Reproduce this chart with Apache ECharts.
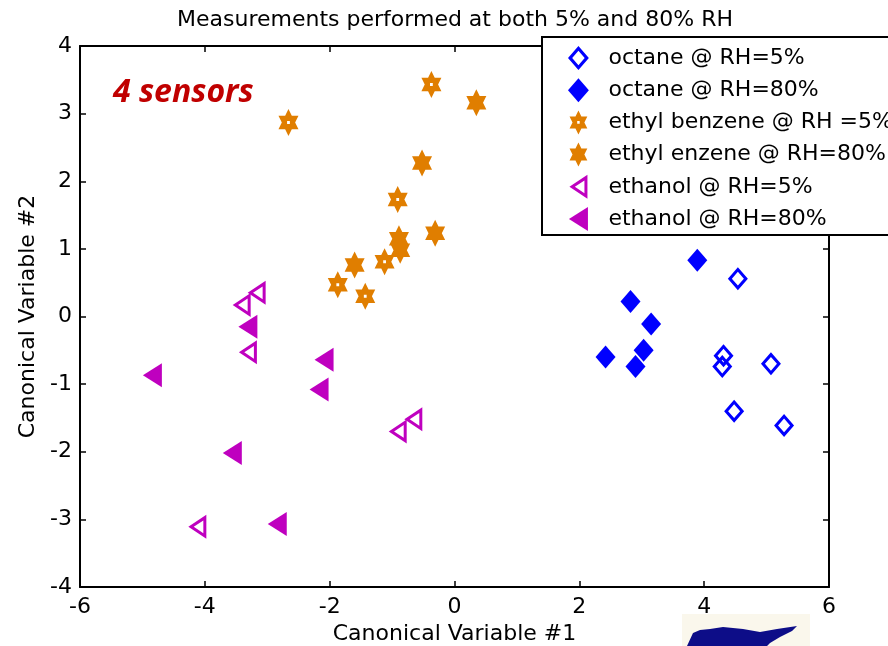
<!DOCTYPE html>
<html>
<head>
<meta charset="utf-8">
<script src="https://cdn.jsdelivr.net/npm/echarts@6/dist/echarts.min.js"></script>
<style>
  html, body { margin: 0; padding: 0; background: #fff; }
  #chart { width: 888px; height: 646px; }
</style>
</head>
<body>
<div id="chart"></div>
<script>
// Canonical variable scores, [CV1, CV2] per measurement
const octane5 = [[4.54, 0.56], [4.31, -0.58], [4.29, -0.74], [5.07, -0.70], [4.48, -1.40], [5.28, -1.61]];
const octane80 = [[3.89, 0.83], [2.82, 0.22], [3.15, -0.11], [3.03, -0.50], [2.42, -0.60], [2.90, -0.74]];
const ethylBenzene5 = [[-2.66, 2.87], [-0.37, 3.43], [-0.91, 1.73], [-1.12, 0.81], [-1.87, 0.47], [-1.43, 0.30]];
const ethylBenzene80 = [[0.35, 3.16], [-0.52, 2.27], [-0.31, 1.23], [-0.89, 1.15], [-0.87, 0.98], [-1.60, 0.76]];
const ethanol5 = [[-3.17, 0.35], [-3.41, 0.17], [-3.31, -0.53], [-0.66, -1.52], [-0.91, -1.70], [-4.12, -3.11]];
const ethanol80 = [[-3.31, -0.15], [-2.09, -0.64], [-4.84, -0.87], [-2.17, -1.08], [-3.56, -2.02], [-2.84, -3.07]];

const seriesNames = [
  'octane @ RH=5%', 'octane @ RH=80%',
  'ethyl benzene @ RH =5%', 'ethyl enzene @ RH=80%',
  'ethanol @ RH=5%', 'ethanol @ RH=80%'
];

const xRange = [-6, 6];
const yRange = [-4, 4];

// Marker shapes; open markers are outlines cut out with a reversed inner contour
const DIAMOND_FILLED = 'path://M10 0L20 11.5L10 23L0 11.5Z';
const DIAMOND_OPEN = 'path://M10 0L20 11.5L10 23L0 11.5Z M10 4.6L4 11.5L10 18.4L16 11.5Z';
const HEX_OUTER = 'M10 0L13.33 6.75L20 6.75L16.67 13.5L20 20.25L13.33 20.25L10 27L6.67 20.25L0 20.25L3.33 13.5L0 6.75L6.67 6.75Z';
const STAR_FILLED = 'path://' + HEX_OUTER;
const STAR_OPEN = 'path://' + HEX_OUTER + ' M8.6 12L8.6 15L11.4 15L11.4 12Z';
const TRI_FILLED = 'path://M0 12L19 0L19 24Z';
const TRI_OPEN = 'path://M0 12L18 0L18 24Z M5.4 12L15 18.4L15 5.6Z';

const BLUE = '#0000FF';
const ORANGE = '#E07E00';
const MAGENTA = '#BF00BF';
const FONT = 'DejaVu Sans';
const FONT_SIZE = 22;

const markers = [
  { data: octane5, symbol: DIAMOND_OPEN, size: [20, 23], color: BLUE },
  { data: octane80, symbol: DIAMOND_FILLED, size: [20, 23], color: BLUE },
  { data: ethylBenzene5, symbol: STAR_OPEN, size: [20, 27], color: ORANGE },
  { data: ethylBenzene80, symbol: STAR_FILLED, size: [20, 27], color: ORANGE },
  { data: ethanol5, symbol: TRI_OPEN, size: [18, 24], color: MAGENTA },
  { data: ethanol80, symbol: TRI_FILLED, size: [19, 24], color: MAGENTA }
];

const chart = echarts.init(document.getElementById('chart'), null, { renderer: 'canvas' });

const tickStyle = { inside: true, length: 6, lineStyle: { color: '#000', width: 1.5 } };
const lineStyle = { show: true, onZero: false, lineStyle: { color: '#000', width: 2 } };
const labelStyle = { color: '#000', fontSize: FONT_SIZE, fontFamily: FONT };

const option = {
  backgroundColor: '#fff',
  animation: false,
  title: {
    text: 'Measurements performed at both 5% and 80% RH',
    left: 455,
    top: 9,
    padding: 0,
    textAlign: 'center',
    textStyle: { color: '#000', fontSize: FONT_SIZE, fontWeight: 'normal', fontFamily: FONT }
  },
  grid: { left: 80, right: 59, top: 46, bottom: 59, containLabel: false, outerBoundsMode: 'none' },
  xAxis: [
    {
      type: 'value', min: xRange[0], max: xRange[1], interval: 2, position: 'bottom',
      axisLine: lineStyle, axisTick: tickStyle, splitLine: { show: false },
      axisLabel: Object.assign({ margin: 9 }, labelStyle),
      name: 'Canonical Variable #1', nameLocation: 'middle', nameGap: 30,
      nameTextStyle: { color: '#000', fontSize: FONT_SIZE, fontFamily: FONT }
    },
    {
      type: 'value', min: xRange[0], max: xRange[1], interval: 2, position: 'top',
      axisLine: lineStyle, axisTick: tickStyle, splitLine: { show: false },
      axisLabel: { show: false }
    }
  ],
  yAxis: [
    {
      type: 'value', min: yRange[0], max: yRange[1], interval: 1, position: 'left',
      axisLine: lineStyle, axisTick: tickStyle, splitLine: { show: false },
      axisLabel: Object.assign({ margin: 8 }, labelStyle),
      name: 'Canonical Variable #2', nameLocation: 'middle', nameGap: 40, nameRotate: 90,
      nameTextStyle: { color: '#000', fontSize: FONT_SIZE, fontFamily: FONT }
    },
    {
      type: 'value', min: yRange[0], max: yRange[1], interval: 1, position: 'right',
      axisLine: lineStyle, axisTick: tickStyle, splitLine: { show: false },
      axisLabel: { show: false }
    }
  ],
  legend: {
    orient: 'vertical',
    left: 542,
    top: 37,
    padding: [9, 30, 4, 26],
    itemWidth: 50,
    itemHeight: 24,
    itemGap: 8.2,
    selectedMode: false,
    backgroundColor: '#fff',
    borderColor: '#000',
    borderWidth: 2,
    borderRadius: 0,
    textStyle: { color: '#000', fontSize: FONT_SIZE, fontFamily: FONT },
    data: seriesNames.map((name, i) => ({
      name: name,
      icon: markers[i].symbol,
      itemStyle: { color: markers[i].color, borderWidth: 0 }
    }))
  },
  graphic: [
    {
      type: 'text', left: 113, top: 77, z: 10,
      style: { text: '4 sensors', font: 'italic bold 32px "Open Sans"', fill: '#C00000' }
    },
    {
      type: 'rect', z: 1,
      shape: { x: 682, y: 614, width: 128, height: 32 },
      style: { fill: '#faf7ec' }
    },
    {
      type: 'polygon', z: 2,
      shape: {
        points: [[687, 646], [693, 633], [700, 630], [710, 629], [723, 627], [743, 629], [760, 632],
                 [777, 629], [797, 626], [792, 631], [780, 637], [770, 643], [767, 646]]
      },
      style: { fill: '#0d0d88' }
    }
  ],
  series: markers.map((m, i) => ({
    name: seriesNames[i],
    type: 'scatter',
    xAxisIndex: 0,
    yAxisIndex: 0,
    data: m.data,
    symbol: m.symbol,
    symbolSize: m.size,
    itemStyle: { color: m.color, opacity: 1, borderWidth: 0 },
    emphasis: { disabled: true },
    z: 2 + i
  }))
};

chart.setOption(option);
</script>
</body>
</html>
